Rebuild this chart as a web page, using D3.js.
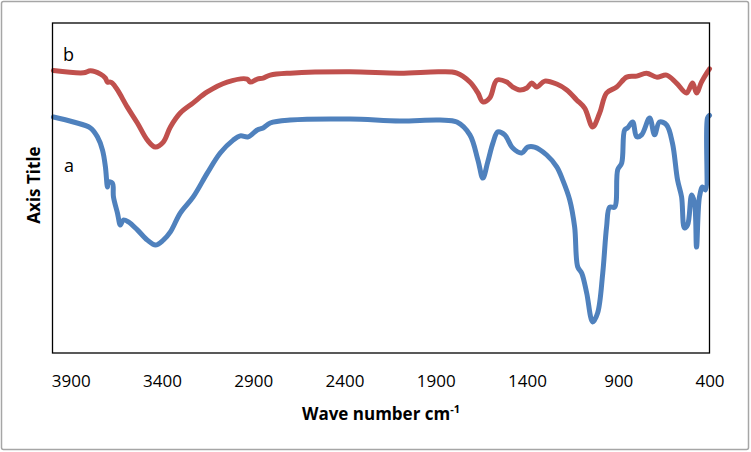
<!DOCTYPE html>
<html><head><meta charset="utf-8">
<script src="https://cdn.jsdelivr.net/npm/d3@7"></script>
<style>body{margin:0;background:#fff}svg{display:block}text{font-family:"Open Sans",sans-serif;fill:#000}</style>
</head><body><svg id="c" width="751" height="452"></svg>
<script>
// wavenumbers (cm-1) and transmittance (arbitrary %)
const waveA = [3995,3885,3792,3754,3726,3710,3699,3694,3672,3666,3644,3628,3612,3584,3535,3480,3436,3393,3354,3300,3229,3152,3081,3010,2971,2928,2878,2846,2807,2698,2370,2096,1877,1784,1713,1669,1642,1615,1587,1560,1522,1478,1429,1396,1358,1292,1237,1204,1166,1139,1122,1100,1073,1040,1013,985,964,947,920,903,881,865,849,821,799,772,728,701,674,635,603,575,553,537,520,498,482,471,455,438,422,411,400];
const seriesA = [71.5,70.0,68.2,65.5,61.5,56.4,50.3,51.8,51.5,47.3,42.4,38.8,40.3,39.7,37.3,34.2,32.7,34.2,36.7,42.4,47.3,54.5,60.6,64.5,65.8,65.5,67.6,68.2,69.7,70.6,70.9,70.3,70.6,70.0,66.1,58.5,53.0,57.9,63.6,67.0,66.1,62.1,60.6,62.4,62.4,60.0,56.4,52.4,46.4,38.2,26.1,24.2,18.2,9.4,12.1,24.2,38.2,44.2,44.2,55.5,57.6,67.6,68.2,70.0,65.5,66.1,71.2,66.1,70.0,69.1,63.6,52.4,47.3,37.9,38.8,47.9,45.5,32.1,47.3,50.3,49.4,71.2,72.0];
const waveB = [3995,3830,3792,3737,3710,3699,3683,3672,3644,3590,3535,3480,3436,3393,3354,3300,3229,3152,3043,2933,2917,2878,2846,2807,2698,2370,2096,1877,1784,1713,1669,1642,1604,1565,1511,1478,1440,1401,1374,1347,1303,1237,1182,1128,1084,1040,1002,964,909,854,799,745,690,635,581,526,493,471,444,411,400];
const seriesB = [85.6,84.9,85.5,84.5,83.3,82.1,82.1,81.8,79.7,74.5,69.7,64.5,62.4,63.9,68.5,72.7,75.8,79.1,82.1,83.0,82.1,83.0,83.3,84.2,84.8,85.2,84.8,85.2,84.8,82.1,78.8,76.1,77.3,82.7,82.1,80.6,79.7,80.3,81.8,80.6,82.4,81.5,79.7,76.7,74.2,68.5,72.7,78.8,80.6,83.6,83.9,84.8,83.6,84.2,81.8,78.8,81.8,78.8,82.1,85.2,86.1];
const xTicks = [3900,3400,2900,2400,1900,1400,900,400];
const seriesLabels = ["a","b"];

const svg = d3.select("#c");
const L=52.5, R=709.5, T=23, B=353;
const x = d3.scaleLinear().domain([4000,400]).range([L,R]);
const y = d3.scaleLinear().domain([0,100]).range([B,T]);

svg.append("rect").attr("x",1.5).attr("y",1.5).attr("width",747).attr("height",448)
  .attr("fill","#fff").attr("stroke","#a6a6a6").attr("stroke-width",1.5).attr("rx",2);

const line = d3.line().x(d=>x(d[0])).y(d=>y(d[1])).curve(d3.curveCatmullRom.alpha(0.5));
const draw = (w,v,col)=>svg.append("path").datum(w.map((d,i)=>[d,v[i]]))
  .attr("d",line).attr("fill","none").attr("stroke",col).attr("stroke-width",5)
  .attr("stroke-linejoin","round").attr("stroke-linecap","round");
draw(waveB,seriesB,"#c0504d");
draw(waveA,seriesA,"#4f81bd");

svg.append("rect").attr("x",L).attr("y",T).attr("width",R-L).attr("height",B-T)
  .attr("fill","none").attr("stroke","#000").attr("stroke-width",1.3);

const ax = svg.append("g").attr("transform",`translate(0,${B})`)
  .call(d3.axisBottom(x).tickValues(xTicks).tickSize(0).tickPadding(0).tickFormat(d3.format("d")));
ax.select(".domain").remove();
ax.selectAll("text").attr("y",34).attr("dy",0).style("font-size","17px").style("font-family","'Open Sans',sans-serif").attr("fill","#000");

const xt = svg.append("text").attr("x",(L+R)/2).attr("y",420).attr("text-anchor","middle")
  .style("font-size","17px").style("font-weight","bold");
xt.append("tspan").text("Wave number cm");
xt.append("tspan").text("-1").attr("dy",-7).style("font-size","11px");

svg.append("text").attr("transform","translate(40,185) rotate(-90)").attr("text-anchor","middle")
  .style("font-size","17px").style("font-weight","bold").text("Axis Title");

svg.append("text").attr("x",64).attr("y",172).style("font-size","18px").text(seriesLabels[0]);
svg.append("text").attr("x",63).attr("y",61).style("font-size","18px").text(seriesLabels[1]);
</script></body></html>
